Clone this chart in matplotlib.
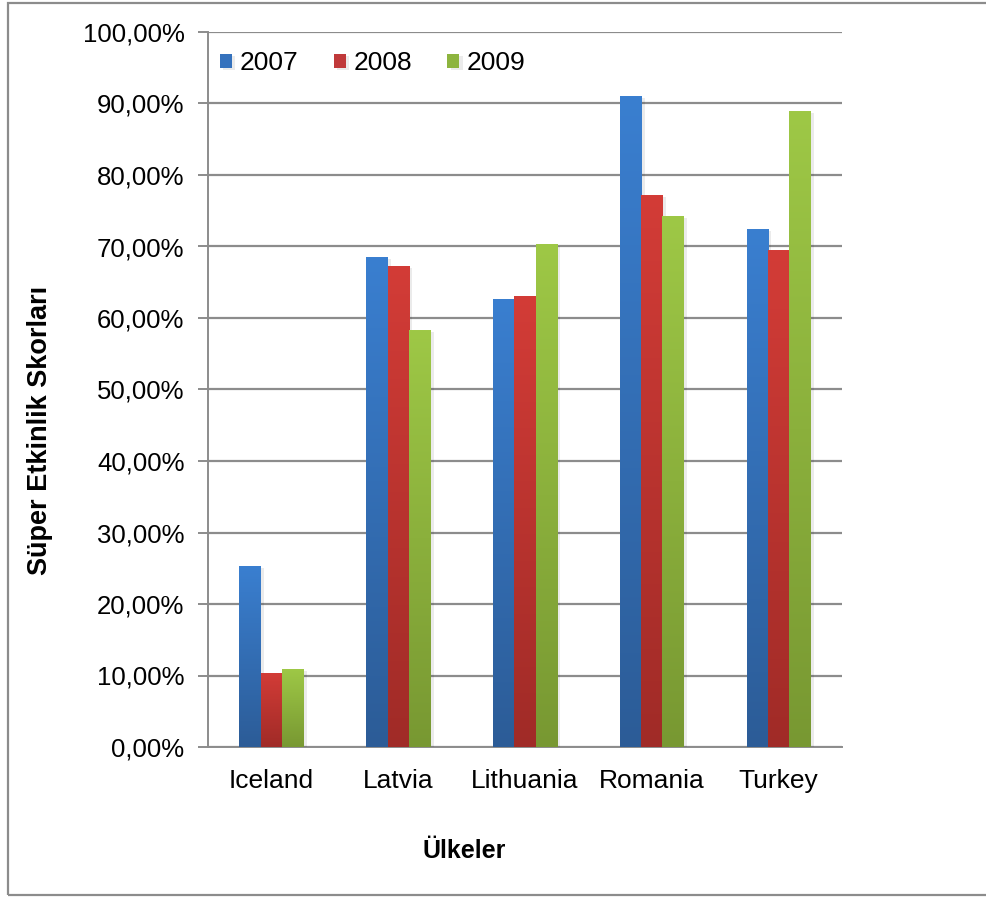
import numpy as np
import matplotlib
matplotlib.use("Agg")
import matplotlib.pyplot as plt
from matplotlib.patches import Rectangle
from matplotlib.colors import LinearSegmentedColormap
import matplotlib.patheffects as pe

plt.rcParams['font.family'] = ['Liberation Sans', 'DejaVu Sans']

countries = ["Iceland", "Latvia", "Lithuania", "Romania", "Turkey"]
years = ["2007", "2008", "2009"]
scores_2007 = [25.3, 68.5, 62.7, 91.0, 72.4]
scores_2008 = [10.35, 67.3, 63.1, 77.2, 69.5]
scores_2009 = [10.9, 58.3, 70.3, 74.3, 88.9]
series = [scores_2007, scores_2008, scores_2009]

# (top colour, bottom colour) of each series' vertical gradient
gradients = [("#3A7FD0", "#2C5C97"),
             ("#D33C37", "#A02B27"),
             ("#9EC846", "#789832")]
legend_colors = ["#3572BD", "#C0393A", "#8DB43E"]

W, H = 987, 897
fig = plt.figure(figsize=(W / 100, H / 100), dpi=100)
ax = fig.add_axes([208 / W, 1 - 747 / H, 634 / W, 715 / H])

x = np.arange(len(countries))
bw = 0.168
offsets = [-bw, 0.0, bw]

grad = np.linspace(1, 0, 256).reshape(-1, 1)
for vals, off, (ctop, cbot), lc, yr in zip(series, offsets, gradients, legend_colors, years):
    bars = ax.bar(x + off, vals, width=bw, color=lc, label=yr, zorder=3,
                  linewidth=0)
    cmap = LinearSegmentedColormap.from_list("g", [cbot, ctop])
    for b in bars:
        b.set_path_effects([pe.SimplePatchShadow(offset=(2.5, -1.5), shadow_rgbFace="#000000",
                                                 alpha=0.08), pe.Normal()])
        x0, w, h = b.get_x(), b.get_width(), b.get_height()
        im = ax.imshow(grad, cmap=cmap, aspect="auto", extent=(x0, x0 + w, 0, h),
                       zorder=4, interpolation="bilinear", vmin=0, vmax=1)
        im.set_clip_path(b)

ax.set_xlim(-0.5, len(countries) - 0.5)
ax.set_ylim(0, 100)
ax.set_yticks(np.arange(0, 101, 10))
ax.set_yticklabels([f"{v:.2f}%".replace(".", ",") for v in np.arange(0, 101, 10)])
ax.set_xticks(x)
ax.set_xticklabels(countries)

ax.yaxis.grid(True, color="#8C8C8C", linewidth=1.6, zorder=0)
ax.set_axisbelow(True)
for s in ["top", "right"]:
    ax.spines[s].set_visible(False)
for s in ["left", "bottom"]:
    ax.spines[s].set_color("#8C8C8C")
    ax.spines[s].set_linewidth(1.4)
ax.tick_params(axis="y", length=7, width=1.4, color="#8C8C8C", labelsize=18.5, pad=10)
ax.tick_params(axis="x", length=0, labelsize=19, pad=16)

fig.text(464 / W, 1 - 851 / H, "Ülkeler", fontsize=18, fontweight="bold",
         ha="center", va="center")
fig.text(40 / W, 1 - 430 / H, "Süper Etkinlik Skorları", fontsize=19.5, fontweight="bold",
         ha="center", va="center", rotation=90)

leg = ax.legend(loc="upper left", bbox_to_anchor=(12 / 634, (747 - 51) / 715), ncol=3,
                frameon=False, fontsize=19, handlelength=0.45, handleheight=0.45,
                handletextpad=0.3, columnspacing=1.33, borderaxespad=0, borderpad=0)

# chart frame
fig.patches.append(Rectangle((8 / W, 1 - 895 / H), 1.2, (895 - 3) / H,
                             transform=fig.transFigure, fill=False,
                             edgecolor="#8C8C8C", linewidth=1.6, clip_on=False))

fig.savefig("out.png", dpi=100)
